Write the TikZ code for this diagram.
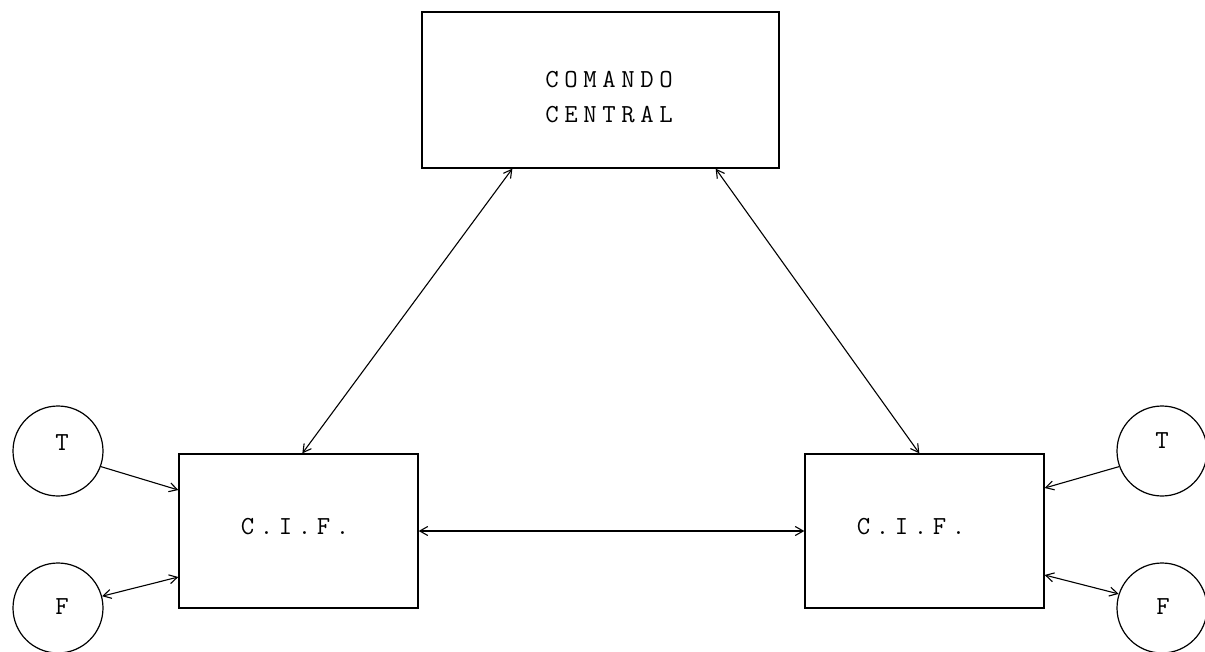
\documentclass[tikz,border=0pt]{standalone}
\usepackage{fontspec}
\usetikzlibrary{arrows.meta}
\makeatletter
\def\lspB#1{\ifx#1\relax\else\kern5.6pt#1\expandafter\lspB\fi}
\def\lspA#1{#1\lspB}
\newcommand\lsp[1]{\lspA#1\relax}
\makeatother
\begin{document}
\begin{tikzpicture}[x=1pt,y=-1pt,
  box/.style={draw,line width=1.3pt,minimum width=#1,inner sep=0pt,align=center},
  circ/.style={draw,circle,line width=1.2pt,minimum size=90pt,inner sep=0pt},
  lbl/.style={font=\fontsize{26}{35}\selectfont\ttfamily},
  arr/.style={line width=1.1pt,-{Straight Barb[length=8pt,width=9pt]}},
  darr/.style={line width=1.1pt,{Straight Barb[length=8pt,width=9pt]}-{Straight Barb[length=8pt,width=9pt]}}]
\useasboundingbox (0,0) rectangle (1205,651);
\node[box=357pt,minimum height=156pt] (cmd) at (600.5,90) {};
\node[box=239pt,minimum height=154pt] (cifL) at (298.5,531) {};
\node[box=239pt,minimum height=154pt] (cifR) at (924.5,531) {};
\node[lbl,align=center] (tcmd) at (609,97) {\lsp{COMANDO}\\\lsp{CENTRAL}};
\node[lbl] (tcifL) at (295,527) {\lsp{C.I.F.}};
\node[lbl] (tcifR) at (911,527) {\lsp{C.I.F.}};
\node[circ] (tL) at (58,451) {};
\node[circ] (fL) at (58,608) {};
\node[circ] (tR) at (1162,451) {};
\node[circ] (fR) at (1162,608) {};
\node[lbl] (ttL) at (62,443) {T};
\node[lbl] (tfL) at (62,607) {F};
\node[lbl] (ttR) at (1162,441) {T};
\node[lbl] (tfR) at (1163,607) {F};
\draw[darr] ([xshift=91pt]cmd.south west) -- ([xshift=124pt]cifL.north west);
\draw[darr] ([xshift=-64pt]cmd.south east) -- ([xshift=115pt]cifR.north west);
\draw[darr] (cifL.east) -- (cifR.west);
\draw[arr] (tL.-20) -- ([yshift=41pt]cifL.west);
\draw[darr] (fL.15) -- ([yshift=-46pt]cifL.west);
\draw[arr] (tR.200) -- ([yshift=43pt]cifR.east);
\draw[darr] ([yshift=-44pt]cifR.east) -- (fR.162);
\end{tikzpicture}
\end{document}
